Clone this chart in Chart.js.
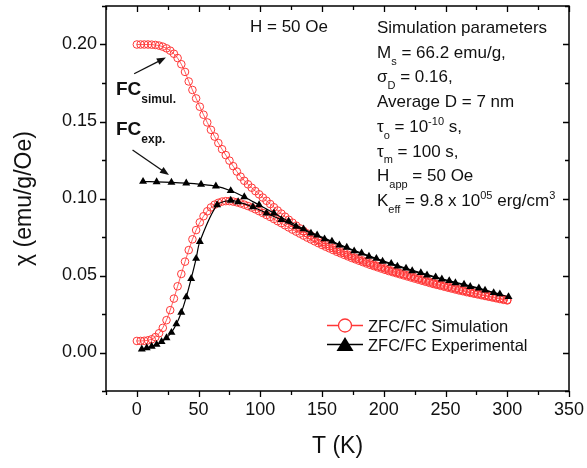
<!DOCTYPE html>
<html>
<head>
<meta charset="utf-8">
<script src="https://cdn.jsdelivr.net/npm/chart.js@4.4.1/dist/chart.umd.min.js"></script>
<style>
  html, body { margin: 0; padding: 0; background: #fff; }
</style>
</head>
<body>
<canvas id="chiChart" width="587" height="468"></canvas>
<script>
// temperatures of the simulated curves (K)
const simT = [0, 3, 6, 9, 12, 15, 18, 21, 24, 27, 30, 33, 36, 39, 42, 45, 48, 51, 54, 57,
  60, 63, 66, 69, 72, 75, 78, 81, 84, 87, 90, 93, 96, 99, 102, 105, 108, 111, 114, 117,
  120, 123, 126, 129, 132, 135, 138, 141, 144, 147, 150, 153, 156, 159, 162, 165, 168, 171, 174, 177,
  180, 183, 186, 189, 192, 195, 198, 201, 204, 207, 210, 213, 216, 219, 222, 225, 228, 231, 234, 237,
  240, 243, 246, 249, 252, 255, 258, 261, 264, 267, 270, 273, 276, 279, 282, 285, 288, 291, 294, 297, 300];

const simZFC = [0.0075, 0.0075, 0.0076, 0.0079, 0.0086, 0.0100, 0.0125, 0.0160, 0.0210, 0.0275,
  0.0350, 0.0430, 0.0510, 0.0590, 0.0665, 0.0735, 0.0795, 0.0845, 0.0885, 0.0917,
  0.0942, 0.0960, 0.0972, 0.0980, 0.0983, 0.0983, 0.0980, 0.0975, 0.0968, 0.0960,
  0.0951, 0.0941, 0.0930, 0.0918, 0.0906, 0.0893, 0.0880, 0.0867, 0.0853, 0.0840,
  0.0826, 0.0812, 0.0798, 0.0785, 0.0772, 0.0759, 0.0746, 0.0734, 0.0722, 0.0710,
  0.0698, 0.0687, 0.0676, 0.0665, 0.0654, 0.0644, 0.0634, 0.0624, 0.0614, 0.0605,
  0.0596, 0.0587, 0.0578, 0.0569, 0.0561, 0.0553, 0.0545, 0.0537, 0.0529, 0.0522,
  0.0515, 0.0508, 0.0501, 0.0494, 0.0487, 0.0480, 0.0473, 0.0466, 0.0459, 0.0452,
  0.0445, 0.0439, 0.0433, 0.0427, 0.0421, 0.0415, 0.0409, 0.0403, 0.0398, 0.0392,
  0.0387, 0.0382, 0.0377, 0.0372, 0.0367, 0.0362, 0.0357, 0.0352, 0.0347, 0.0342, 0.0338];

const simFC = [0.2000, 0.2000, 0.2000, 0.2000, 0.1999, 0.1997, 0.1993, 0.1986, 0.1975, 0.1960,
  0.1940, 0.1912, 0.1872, 0.1822, 0.1760, 0.1705, 0.1650, 0.1596, 0.1544, 0.1494,
  0.1446, 0.1402, 0.1360, 0.1320, 0.1282, 0.1246, 0.1210, 0.1175, 0.1142, 0.1115,
  0.1092, 0.1070, 0.1048, 0.1027, 0.1006, 0.0985, 0.0964, 0.0943, 0.0922, 0.0902,
  0.0882, 0.0862, 0.0843, 0.0824, 0.0806, 0.0789, 0.0773, 0.0758, 0.0743, 0.0729,
  0.0715, 0.0702, 0.0690, 0.0678, 0.0667, 0.0656, 0.0646, 0.0635, 0.0625, 0.0615,
  0.0606, 0.0597, 0.0588, 0.0579, 0.0570, 0.0562, 0.0554, 0.0546, 0.0538, 0.0530,
  0.0523, 0.0516, 0.0509, 0.0502, 0.0495, 0.0488, 0.0481, 0.0474, 0.0467, 0.0460,
  0.0453, 0.0446, 0.0440, 0.0434, 0.0428, 0.0422, 0.0416, 0.0410, 0.0404, 0.0398,
  0.0393, 0.0388, 0.0382, 0.0377, 0.0372, 0.0367, 0.0362, 0.0357, 0.0352, 0.0347, 0.0342];

// experimental points
const expZfcT = [4, 8, 12, 16, 20, 24, 28, 32, 36, 40, 44, 48, 51, 65, 76, 82, 94, 105, 117, 129,
  141, 152, 164, 176, 188, 199, 211, 223, 235, 247, 258, 270, 282, 294];
const expZfc = [0.0022, 0.0030, 0.0040, 0.0052, 0.0070, 0.0095, 0.0130, 0.0185, 0.0260, 0.0360,
  0.0480, 0.0610, 0.0720, 0.0958, 0.0988, 0.0978, 0.0945, 0.0905, 0.0862, 0.0818,
  0.0774, 0.0737, 0.0697, 0.0659, 0.0624, 0.0592, 0.0560, 0.0530, 0.0502, 0.0476,
  0.0452, 0.0428, 0.0404, 0.0380];

const expFcT = [5, 16, 28, 40, 52, 64, 76, 87, 99, 111, 123, 135, 146, 158, 170, 182, 194, 206,
  218, 230, 242, 253, 265, 277, 289, 301];
const expFc = [0.1110, 0.1108, 0.1105, 0.1100, 0.1092, 0.1080, 0.1050, 0.1010, 0.0958, 0.0905,
  0.0852, 0.0802, 0.0762, 0.0722, 0.0682, 0.0645, 0.0610, 0.0578, 0.0547, 0.0518,
  0.0490, 0.0466, 0.0442, 0.0418, 0.0388, 0.0362];

// axes
const xMajor = [0, 50, 100, 150, 200, 250, 300, 350];
const xMinor = [-25, 25, 75, 125, 175, 225, 275, 325];
const yMajor = [0.00, 0.05, 0.10, 0.15, 0.20];
const yMinor = [-0.025, 0.025, 0.075, 0.125, 0.175, 0.225];

const FONT = "'Liberation Sans', Arial, sans-serif";
const RED = 'rgb(255, 55, 55)';

const pts = (xs, ys) => xs.map((t, i) => ({ x: t, y: ys[i] }));

// text with sub/superscripts, parts = [text, kind]
function drawRich(ctx, parts, x, y, size, bold) {
  let cx = x;
  const w = bold ? 'bold ' : '';
  parts.forEach(([txt, kind]) => {
    let fs = size, dy = 0;
    if (kind === 'sub') { fs = Math.round(size * 0.65); dy = size * 0.4; }
    if (kind === 'sup') { fs = Math.round(size * 0.65); dy = -size * 0.42; }
    ctx.font = w + fs + 'px ' + FONT;
    ctx.fillText(txt, cx, y + dy);
    cx += ctx.measureText(txt).width;
  });
}

function arrow(ctx, x1, y1, x2, y2) {
  const ang = Math.atan2(y2 - y1, x2 - x1);
  const L = 9, W = 3.5;
  ctx.beginPath();
  ctx.moveTo(x1, y1);
  ctx.lineTo(x2 - Math.cos(ang) * L * 0.8, y2 - Math.sin(ang) * L * 0.8);
  ctx.stroke();
  ctx.beginPath();
  ctx.moveTo(x2, y2);
  ctx.lineTo(x2 - Math.cos(ang) * L - Math.sin(ang) * W, y2 - Math.sin(ang) * L + Math.cos(ang) * W);
  ctx.lineTo(x2 - Math.cos(ang) * L + Math.sin(ang) * W, y2 - Math.sin(ang) * L - Math.cos(ang) * W);
  ctx.closePath();
  ctx.fill();
}

const frameTicks = {
  id: 'frameTicks',
  afterDraw(chart) {
    const { ctx, chartArea: a, scales: { x, y } } = chart;
    ctx.save();
    ctx.strokeStyle = '#000';
    ctx.lineWidth = 1.5;
    ctx.strokeRect(a.left, a.top, a.right - a.left, a.bottom - a.top);
    ctx.lineWidth = 1.3;
    ctx.beginPath();
    const xt = (v, len) => {
      const p = Math.round(x.getPixelForValue(v)) + 0.5;
      ctx.moveTo(p, a.bottom); ctx.lineTo(p, a.bottom + len);
      ctx.moveTo(p, a.top); ctx.lineTo(p, a.top + len);
    };
    const yt = (v, len) => {
      const p = Math.round(y.getPixelForValue(v)) + 0.5;
      ctx.moveTo(a.left - len, p); ctx.lineTo(a.left, p);
      ctx.moveTo(a.right - len, p); ctx.lineTo(a.right, p);
    };
    xMajor.forEach(v => xt(v, 6));
    xMinor.forEach(v => xt(v, 4));
    yMajor.forEach(v => yt(v, 6));
    yMinor.forEach(v => yt(v, 4));
    ctx.stroke();
    ctx.restore();
  }
};

const notes = {
  id: 'notes',
  afterDraw(chart) {
    const { ctx, scales: { x, y } } = chart;
    ctx.save();
    ctx.fillStyle = '#111';
    ctx.strokeStyle = '#111';
    ctx.textBaseline = 'alphabetic';
    ctx.textAlign = 'left';

    drawRich(ctx, [['H = 50 Oe', 'n']], 250, 32, 17, false);

    const lines = [
      [['Simulation parameters', 'n']],
      [['M', 'n'], ['s', 'sub'], [' = 66.2 emu/g,', 'n']],
      [['\u03c3', 'n'], ['D', 'sub'], [' = 0.16,', 'n']],
      [['Average D = 7 nm', 'n']],
      [['\u03c4', 'n'], ['o', 'sub'], [' = 10', 'n'], ['-10', 'sup'], [' s,', 'n']],
      [['\u03c4', 'n'], ['m', 'sub'], [' = 100 s,', 'n']],
      [['H', 'n'], ['app', 'sub'], [' = 50 Oe', 'n']],
      [['K', 'n'], ['eff', 'sub'], [' = 9.8 x 10', 'n'], ['05', 'sup'], [' erg/cm', 'n'], ['3', 'sup']]
    ];
    lines.forEach((ln, i) => drawRich(ctx, ln, 377, 33 + i * 24.7, 17, false));

    // curve labels and arrows
    drawRich(ctx, [['FC', 'n'], ['simul.', 'sub']], 116, 95, 19, true);
    drawRich(ctx, [['FC', 'n'], ['exp.', 'sub']], 116, 135, 19, true);
    ctx.lineWidth = 1.3;
    arrow(ctx, x.getPixelForValue(-2.2), y.getPixelForValue(0.181),
      x.getPixelForValue(23.5), y.getPixelForValue(0.1915));
    arrow(ctx, x.getPixelForValue(-3.5), y.getPixelForValue(0.1315),
      x.getPixelForValue(26), y.getPixelForValue(0.1152));

    // legend
    const lx = 327, lw = 36;
    ctx.lineWidth = 1.3;
    ctx.strokeStyle = RED;
    ctx.beginPath(); ctx.moveTo(lx, 325.5); ctx.lineTo(lx + lw, 325.5); ctx.stroke();
    ctx.fillStyle = '#fff';
    ctx.beginPath(); ctx.arc(lx + lw / 2, 325.5, 6.5, 0, Math.PI * 2); ctx.fill(); ctx.stroke();
    ctx.strokeStyle = '#000';
    ctx.fillStyle = '#000';
    ctx.beginPath(); ctx.moveTo(lx, 344.5); ctx.lineTo(lx + lw, 344.5); ctx.stroke();
    ctx.beginPath();
    ctx.moveTo(lx + lw / 2, 337); ctx.lineTo(lx + lw / 2 + 8.5, 351); ctx.lineTo(lx + lw / 2 - 8.5, 351);
    ctx.closePath(); ctx.fill();
    ctx.fillStyle = '#111';
    ctx.font = '16.5px ' + FONT;
    ctx.fillText('ZFC/FC Simulation', 368, 331.5);
    ctx.fillText('ZFC/FC Experimental', 368, 350.5);
    ctx.restore();
  }
};

const expStyle = {
  borderColor: '#000', backgroundColor: '#000', borderWidth: 1.2,
  pointStyle: 'triangle', pointRadius: 4.6, pointBorderWidth: 0,
  showLine: true, tension: 0.3
};
const simStyle = {
  borderColor: RED, backgroundColor: 'rgba(255,255,255,0)', borderWidth: 0.8,
  pointStyle: 'circle', pointRadius: 3.8, pointBorderWidth: 1,
  showLine: true, tension: 0
};

new Chart(document.getElementById('chiChart').getContext('2d'), {
  type: 'scatter',
  data: {
    datasets: [
      Object.assign({ label: 'ZFC exp', data: pts(expZfcT, expZfc) }, expStyle),
      Object.assign({ label: 'FC exp', data: pts(expFcT, expFc) }, expStyle),
      Object.assign({ label: 'ZFC sim', data: pts(simT, simZFC) }, simStyle),
      Object.assign({ label: 'FC sim', data: pts(simT, simFC) }, simStyle)
    ]
  },
  options: {
    responsive: false,
    animation: false,
    devicePixelRatio: 1,
    layout: { padding: { top: 6, right: 18, left: 0, bottom: 0 } },
    plugins: { legend: { display: false }, tooltip: { enabled: false } },
    scales: {
      x: {
        type: 'linear', min: -25, max: 350,
        grid: { display: false, drawTicks: false },
        border: { display: false },
        afterBuildTicks: s => { s.ticks = xMajor.map(v => ({ value: v })); },
        afterFit: s => { s.height = 77; s.paddingLeft = 0; s.paddingRight = 0; },
        ticks: { color: '#111', padding: 8, font: { family: FONT, size: 18 }, callback: v => String(v) },
        title: { display: true, text: 'T (K)', color: '#111', font: { family: FONT, size: 23 }, padding: { bottom: 8 } }
      },
      y: {
        type: 'linear', min: -0.025, max: 0.225,
        grid: { display: false, drawTicks: false },
        border: { display: false },
        afterBuildTicks: s => { s.ticks = yMajor.map(v => ({ value: v })); },
        afterFit: s => { s.width = 106; s.paddingTop = 0; s.paddingBottom = 0; },
        ticks: { color: '#111', padding: 9, font: { family: FONT, size: 18 }, callback: v => v.toFixed(2) },
        title: { display: true, text: '\u03c7 (emu/g/Oe)', color: '#111', font: { family: FONT, size: 23 }, padding: { top: 11 } }
      }
    }
  },
  plugins: [frameTicks, notes]
});
</script>
</body>
</html>
